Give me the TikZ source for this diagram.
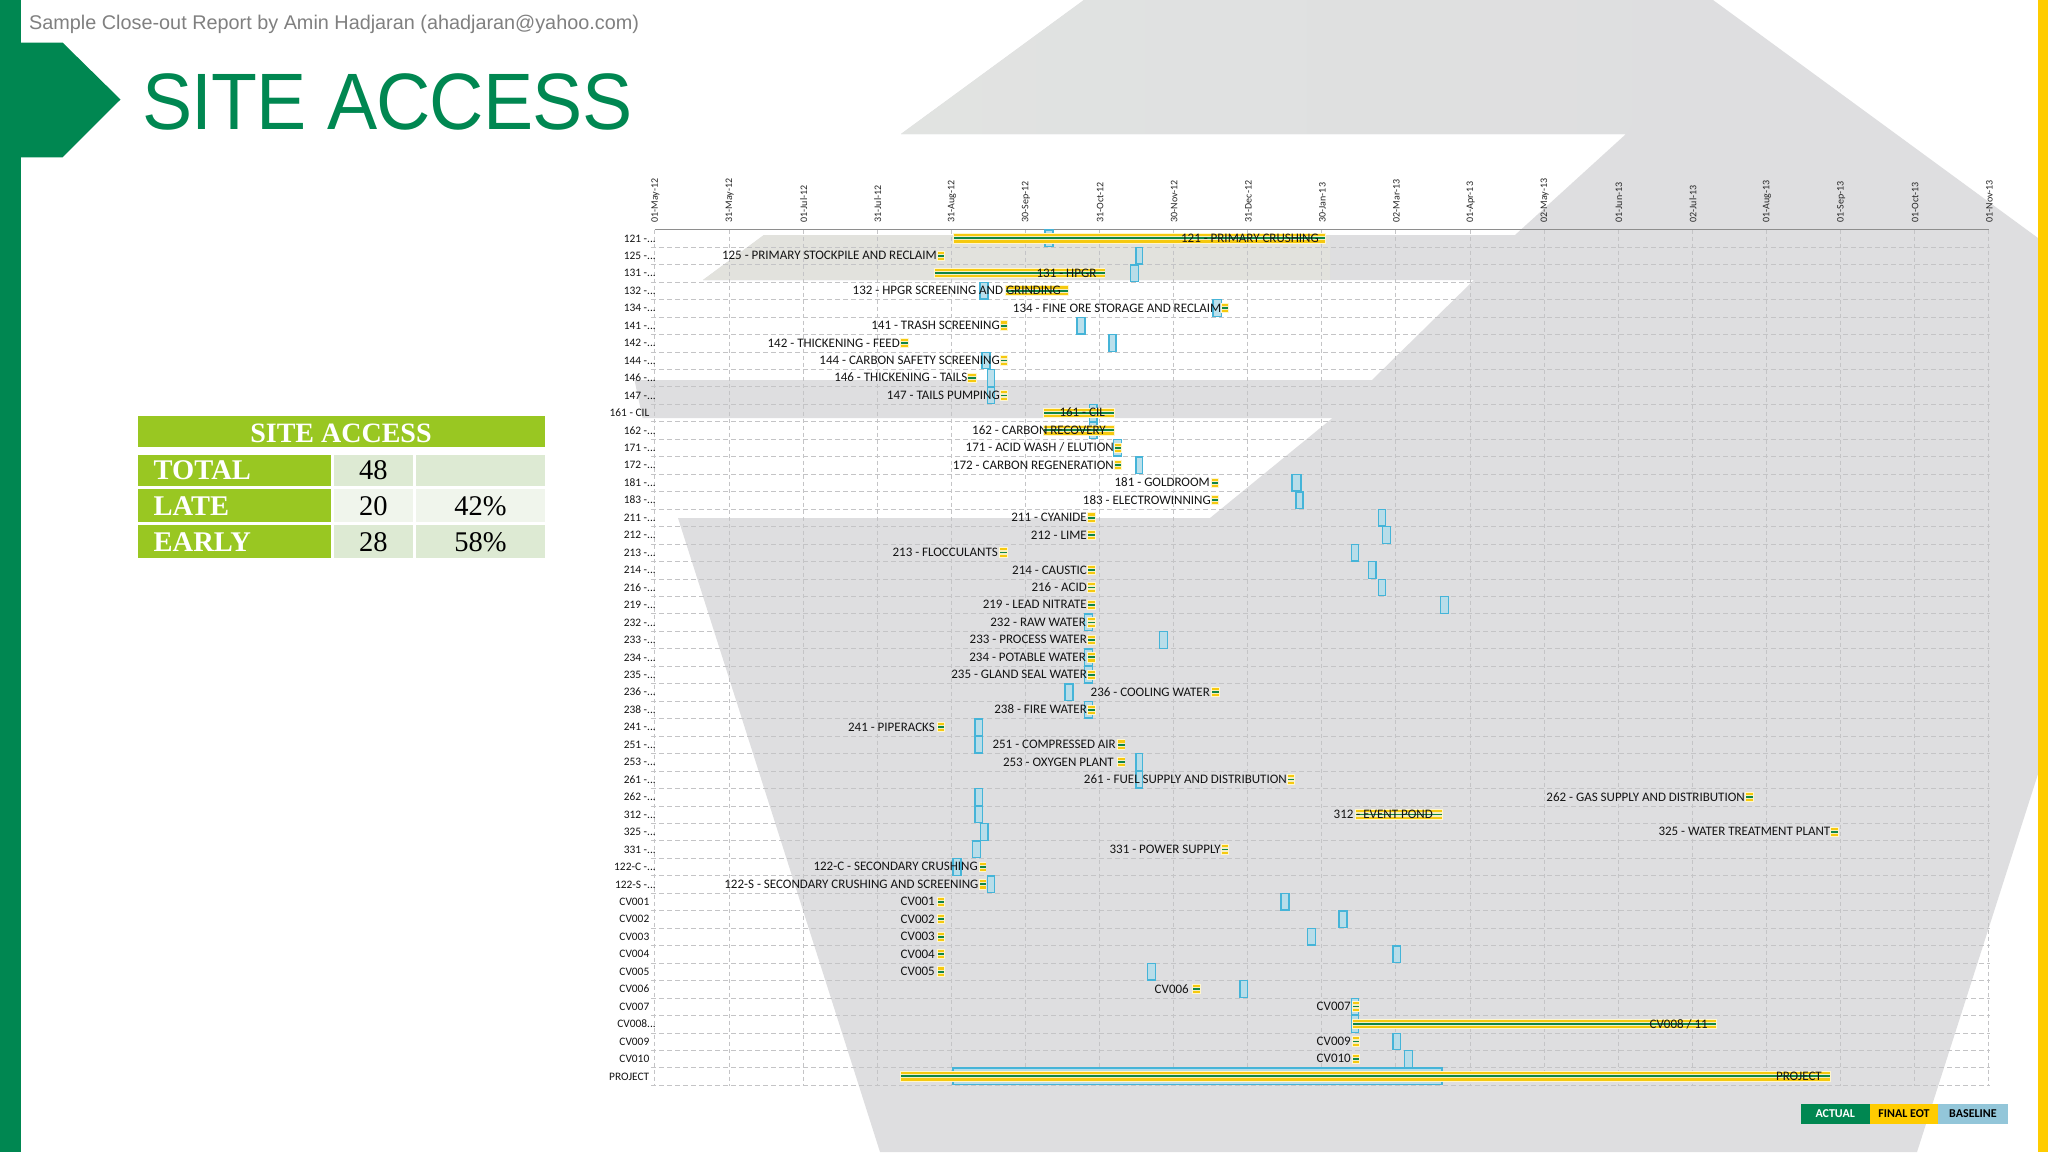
\documentclass[tikz,border=0pt]{standalone}
\usepackage{fontspec}
\setmainfont{Liberation Sans}
\newfontfamily\calfont{Carlito}
\newfontfamily\tabfont{Liberation Serif}
\newfontfamily\titlefont[FakeStretch=0.94,LetterSpace=-1]{Liberation Sans}
\definecolor{brandgreen}{HTML}{008751}
\definecolor{brandyellow}{HTML}{FFCC00}
\definecolor{bgrey}{HTML}{DEDEE0}
\definecolor{bgreytop}{HTML}{E1E3E1}
\definecolor{bband}{HTML}{E2E2DD}
\definecolor{gridcol}{HTML}{C4C4C6}
\definecolor{axiscol}{HTML}{8E8E8E}
\definecolor{tabgreen}{HTML}{99C722}
\definecolor{celldark}{HTML}{DDEAD3}
\definecolor{celllight}{HTML}{F0F5EC}
\definecolor{boxline}{HTML}{45B4D8}
\definecolor{boxfill}{HTML}{B4DDEA}
\definecolor{barhalo}{HTML}{FFF6CC}
\definecolor{baryellow}{HTML}{F6C90E}
\definecolor{barpale}{HTML}{F4EFC2}
\definecolor{bargreen}{HTML}{0F8547}
\definecolor{legblue}{HTML}{93C6D9}
\definecolor{txtdark}{HTML}{141414}
\def\dotsuffix{ -...}
\tikzset{
  gridv/.style={draw=gridcol,line width=0.8pt,dash pattern=on 4pt off 3pt},
  gridh/.style={draw=gridcol,line width=0.8pt,dash pattern=on 5pt off 3pt},
  rowlab/.style={anchor=base east,inner sep=0pt,text=txtdark,font=\calfont\fontsize{11.4}{13}\selectfont},
  barlab/.style={anchor=base east,inner sep=0pt,text=txtdark,font=\calfont\fontsize{13}{15}\selectfont},
  datelab/.style={anchor=west,rotate=90,inner sep=0pt,text=black!85,font=\calfont\fontsize{10}{12}\selectfont},
  basebox/.style={draw=boxline,line width=1.3pt,fill=boxfill,fill opacity=0.9},
  tabhead/.style={anchor=base west,inner sep=0pt,text=white,font=\tabfont\bfseries\fontsize{28.5}{30}\selectfont},
  tabval/.style={anchor=base,inner sep=0pt,text=black,font=\tabfont\fontsize{28.5}{30}\selectfont},
  legcell/.style={minimum height=20pt,inner sep=0pt,font=\calfont\bfseries\fontsize{12}{14}\selectfont},
}
\begin{document}
\begin{tikzpicture}[x=1pt,y=-1pt]
\useasboundingbox (0,0) rectangle (2048,1152);
\fill[white] (0,0) rectangle (2048,1152);
% background shapes
\fill[bgrey] (1084,0) -- (901,134) -- (1626,134) -- (1515,235) -- (764,235) -- (703,280) -- (1474,280)
  -- (1372,380) -- (634.5,380) -- (642.5,418) -- (1332.5,418) -- (1210,518) -- (678,518) -- (880,1152)
  -- (1917,1152) -- (2038,774) -- (2038,238) -- (1713,0) -- cycle;
\shade[left color=bgreytop,right color=bgrey] (1084,0) -- (901,134) -- (1626,134) -- (1713,0) -- cycle;
\fill[bband] (764,235) -- (703,280) -- (1330,280) -- (1330,235) -- cycle;
% side bars
\fill[brandgreen] (0,0) rectangle (20.5,1152);
\fill[brandgreen] (20,42.5) -- (62.5,42.5) -- (120.5,99.5) -- (62.5,157.3) -- (20,157.3) -- cycle;
\fill[brandyellow] (2038,0) rectangle (2048,1152);
% header
\node[anchor=base west,inner sep=0pt,text=black!50,font=\fontsize{19.83}{24}\selectfont] (report) at (29,29.3)
  {Sample Close-out Report by Amin Hadjaran (ahadjaran@yahoo.com)};
\node[anchor=base west,inner sep=0pt,text=brandgreen,font=\titlefont\fontsize{80}{90}\selectfont] (title) at (142,129.3) {SITE ACCESS};
% table
\fill[tabgreen] (138.3,416) rectangle (545,446.7);
\node[anchor=base,inner sep=0pt,text=white,font=\tabfont\bfseries\fontsize{28}{30}\selectfont] (tabtitle) at (341,442.5) {SITE ACCESS};
\foreach \ya/\yb/\c/\nm/\v/\p in {455.3/485.7/celldark/TOTAL/48/,489/521.7/celllight/LATE/20/42\%,525.3/557.7/celldark/EARLY/28/58\%}{
  \fill[tabgreen] (138.3,\ya) rectangle (331.3,\yb);
  \fill[\c] (334,\ya) rectangle (412.7,\yb);
  \fill[\c] (416,\ya) rectangle (545,\yb);
  \node[tabhead] (tab\nm) at (153.5,{\yb-6.7}) {\nm};
  \node[tabval] (val\nm) at (373.3,{\yb-6.7}) {\v};
  \node[tabval] (pct\nm) at (480.5,{\yb-6.7}) {\p};
}
% grid
\foreach \i in {0,...,18}{
  \draw[gridv] ({654.8+74.1*\i},229.5) -- ({654.8+74.1*\i},1085.5);
}
\foreach \i in {0,...,48}{
  \draw[gridh] (651,{247.2+17.46*\i}) -- (1990,{247.2+17.46*\i});
}
\draw[axiscol,line width=1.2pt] (654.8,229.3) -- (1988.6,229.3);
% date labels
\foreach \i/\d in {0/01-May-12,1/31-May-12,2/01-Jul-12,3/31-Jul-12,4/31-Aug-12,5/30-Sep-12,6/31-Oct-12,7/30-Nov-12,8/31-Dec-12,9/30-Jan-13,10/02-Mar-13,11/01-Apr-13,12/02-May-13,13/01-Jun-13,14/02-Jul-13,15/01-Aug-13,16/01-Sep-13,17/01-Oct-13,18/01-Nov-13}{
  \node[datelab] (date\i) at ({655.5+74.1*\i},222.7) {\d};
}
% left row labels
\foreach \r/\t in {0/121,1/125,2/131,3/132,4/134,5/141,6/142,7/144,8/146,9/147,11/162,12/171,13/172,14/181,15/183,16/211,17/212,18/213,19/214,20/216,21/219,22/232,23/233,24/234,25/235,26/236,27/238,28/241,29/251,30/253,31/261,32/262,33/312,34/325,35/331,36/122-C,37/122-S}{
  \node[rowlab] (row\r) at (656,{242+17.46*\r}) {\t\dotsuffix};
}
\node[rowlab] (row45) at (656,{242+17.46*45}) {CV008\ignorespaces{.}{.}{.}};
\foreach \r/\t in {10/161 - CIL,38/CV001,39/CV002,40/CV003,41/CV004,42/CV005,43/CV006,44/CV007,46/CV009,47/CV010,48/PROJECT}{
  \node[rowlab] (row\r) at (649.5,{242+17.46*\r}) {\t};
}
% baseline boxes
\foreach \r/\a/\b in {0/1045/1053,1/1136/1142.5,2/1130.5/1138.5,3/980/988,4/1213/1221.5,5/1077/1085,6/1109/1116,7/982/990,8/987.6/994.7,9/987.6/994.7,10/1089.4/1097,11/1089.4/1097,12/1113.5/1121.5,13/1136/1142.5,14/1292/1301,15/1296/1303,16/1378.3/1385.7,17/1382.7/1390.7,18/1351.3/1358.7,19/1368.7/1376,20/1378.3/1385.7,21/1440.7/1448.7,22/1084.5/1092.5,23/1159.5/1167.5,24/1084.5/1092.5,25/1084.5/1092.5,26/1065/1073,27/1084.5/1092.5,28/975/982.7,29/975/982.7,30/1136/1142.5,31/1136/1142.5,32/975/982.7,33/975/982.7,34/980.5/988,35/972.4/980.4,36/953/961,37/987.6/994.7,38/1281/1289,39/1339/1347,40/1307.5/1315.3,41/1393/1400.6,42/1147.4/1155.4,43/1240/1247.4,44/1351.6/1358.4,45/1351.6/1358.4,46/1393/1400.6,47/1404.5/1412.4,48/953/1442}{
  \draw[basebox] (\a,{238.3+17.46*\r-8.3}) rectangle (\b,{238.3+17.46*\r+8.3});
}
% bars
\foreach \r/\a/\b in {0/954/1325,1/938/944,2/935/1104.5,3/1006/1068,4/1222/1228,5/1000.5/1007,6/901/908,7/1000.5/1007,8/968/976,9/1000.5/1007,10/1044/1114,11/1044/1114,12/1115/1121,13/1115/1121,14/1212/1218,15/1212/1218,16/1088/1095,17/1088/1095,18/1000/1007,19/1088/1095,20/1088/1095,21/1088/1095,22/1088/1095,23/1088/1095,24/1088/1095,25/1088/1095,26/1212/1219,27/1088/1095,28/938/944,29/1117.5/1124.6,30/1117.5/1124.6,31/1287.5/1294,32/1746/1753,33/1356/1442,34/1831/1838,35/1221.5/1228,36/979.5/985.5,37/979.5/985.5,38/938/944,39/938/944,40/938/944,41/938/944,42/938/944,43/1193/1200,44/1352.5/1359,45/1352.5/1716,46/1352.5/1359,47/1352.5/1359,48/901/1830}{
  \fill[barhalo] ({\a-0.7},{238.3+17.46*\r-5.2}) rectangle ({\b+0.7},{238.3+17.46*\r+5.2});
  \fill[baryellow] (\a,{238.3+17.46*\r-4.2}) rectangle (\b,{238.3+17.46*\r+4.2});
  \fill[barpale] (\a,{238.3+17.46*\r-2.1}) rectangle (\b,{238.3+17.46*\r+2.1});
  \fill[bargreen] (\a,{238.3+17.46*\r-0.9}) rectangle (\b,{238.3+17.46*\r+0.9});
}
% bar labels
\foreach \r/\x/\t in {0/1319/121 - PRIMARY CRUSHING,1/937/125 - PRIMARY STOCKPILE AND RECLAIM,2/1096.5/131 - HPGR,3/1061/132 - HPGR SCREENING AND GRINDING,4/1221.5/134 - FINE ORE STORAGE AND RECLAIM,5/1000/141 - TRASH SCREENING,6/900/142 - THICKENING - FEED,7/1000/144 - CARBON SAFETY SCREENING,8/967.5/146 - THICKENING - TAILS,9/1000/147 - TAILS PUMPING,10/1105/161 - CIL,11/1106/162 - CARBON RECOVERY,12/1114/{171 - ACID WASH / ELUTION},13/1114/172 - CARBON REGENERATION,14/1210/181 - GOLDROOM,15/1211/183 - ELECTROWINNING,16/1087/211 - CYANIDE,17/1087/212 - LIME,18/998/213 - FLOCCULANTS,19/1087/214 - CAUSTIC,20/1087/216 - ACID,21/1087/219 - LEAD NITRATE,22/1086/232 - RAW WATER,23/1087/233 - PROCESS WATER,24/1086/234 - POTABLE WATER,25/1087/235 - GLAND SEAL WATER,26/1210/236 - COOLING WATER,27/1087/238 - FIRE WATER,28/935/241 - PIPERACKS,29/1116/251 - COMPRESSED AIR,30/1114/253 - OXYGEN PLANT,31/1287/261 - FUEL SUPPLY AND DISTRIBUTION,32/1745/262 - GAS SUPPLY AND DISTRIBUTION,33/1433/312 - EVENT POND,34/1830.5/325 - WATER TREATMENT PLANT,35/1221/331 - POWER SUPPLY,36/978/122-C - SECONDARY CRUSHING,37/978.6/122-S - SECONDARY CRUSHING AND SCREENING,38/935/CV001,39/935/CV002,40/935/CV003,41/935/CV004,42/935/CV005,43/1189/CV006,44/1351/CV007,45/1708/{CV008 / 11},46/1351/CV009,47/1351/CV010,48/1822/PROJECT}{
  \node[barlab] (bar\r) at (\x,{242.3+17.46*\r}) {\t};
}
% legend
\node[legcell,fill=brandgreen,text=white,minimum width=69.1pt] (legactual) at (1835.15,1114) {ACTUAL};
\node[legcell,fill=brandyellow,text=black,minimum width=68.6pt] (legfinal) at (1904,1114) {FINAL EOT};
\node[legcell,fill=legblue,text=black,minimum width=69.2pt] (legbase) at (1972.9,1114) {BASELINE};
\end{tikzpicture}
\end{document}
